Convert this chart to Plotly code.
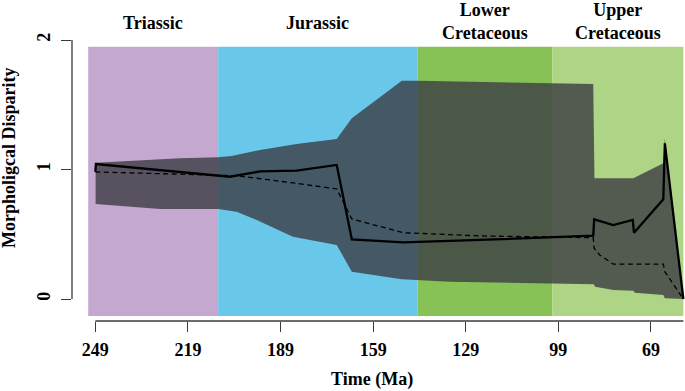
import plotly.graph_objects as go

# Geological periods (Ma) and colours
period_names = ["Triassic", "Jurassic", "Lower<br>Cretaceous", "Upper<br>Cretaceous"]
period_start = [251.3, 209.2, 144.6, 101.0]
period_end = [209.2, 144.6, 101.0, 58.5]
period_colors = ["#C5A8D0", "#69C8EA", "#87C256", "#AED586"]
band_bottom, band_top = -0.131, 1.948

# Envelope (upper / lower bounds of disparity)
upper_t = [248.9, 221.6, 209.2, 204.8, 195.6, 183.8, 170.8, 165.9, 149.7, 144.4,
           87.7, 87.3, 74.7, 65.0, 64.5, 58.5]
upper_v = [1.053, 1.086, 1.094, 1.104, 1.151, 1.197, 1.236, 1.395, 1.685, 1.685,
           1.660, 0.932, 0.932, 1.048, 1.240, 0.0]
lower_t = [248.9, 228.0, 209.2, 203.2, 196.7, 185.0, 170.8, 165.9, 149.7, 134.1,
           101.1, 87.5, 87.1, 81.2, 74.7, 74.2, 65.0, 64.5, 58.5]
lower_v = [0.734, 0.695, 0.695, 0.674, 0.610, 0.481, 0.417, 0.211, 0.152, 0.134,
           0.121, 0.114, 0.095, 0.069, 0.064, 0.049, 0.031, 0.005, 0.0]

# Observed disparity (solid)
obs_t = [249.0, 248.8, 205.4, 195.6, 183.8, 170.8, 165.9, 149.2, 124.4, 87.7,
         87.4, 81.2, 74.9, 74.5, 65.0, 64.5, 58.5]
obs_v = [0.981, 1.042, 0.944, 0.985, 0.992, 1.035, 0.461, 0.438, 0.456, 0.489,
         0.615, 0.571, 0.610, 0.512, 0.770, 1.202, 0.0]

# Expected disparity (dashed)
exp_t = [249.0, 203.2, 183.8, 170.8, 165.9, 149.2, 124.4, 87.7, 87.4, 85.6,
         81.2, 65.0, 64.5, 58.5]
exp_v = [0.981, 0.952, 0.893, 0.850, 0.618, 0.512, 0.487, 0.473, 0.392, 0.340,
         0.270, 0.270, 0.211, 0.0]

x_ticks = [249, 219, 189, 159, 129, 99, 69]
y_ticks = [0, 1, 2]

FONT = "Liberation Serif"
W, H = 685, 391
ML, MR, MT, MB = 72, 0, 40, 70
PW, PH = W - ML - MR, H - MT - MB

fig = go.Figure()

# period bands
for s, e, c in zip(period_start, period_end, period_colors):
    fig.add_shape(type="rect", xref="x", yref="y", x0=s, x1=e, y0=band_bottom, y1=band_top,
                  fillcolor=c, line=dict(width=0), layer="below")

fig.add_trace(go.Scatter(
    x=upper_t + lower_t[::-1], y=upper_v + lower_v[::-1],
    fill="toself", fillcolor="rgba(60,60,68,0.8)", line=dict(width=0),
    mode="lines", hoverinfo="skip", showlegend=False))

fig.add_trace(go.Scatter(x=exp_t, y=exp_v, mode="lines",
                         line=dict(color="black", width=1.3, dash="5px,3.5px"),
                         showlegend=False))
fig.add_trace(go.Scatter(x=obs_t, y=obs_v, mode="lines",
                         line=dict(color="black", width=2.3),
                         showlegend=False))

# axis lines in R style (spanning ticks only)
fig.add_shape(type="line", xref="x", yref="paper", x0=x_ticks[0], x1=period_end[-1],
              y0=0, y1=0, line=dict(color="#3a3a3a", width=1.3))
fig.add_shape(type="line", xref="paper", yref="y", x0=0, x1=0,
              y0=y_ticks[0], y1=y_ticks[-1], line=dict(color="#3a3a3a", width=1.3))

# period labels
for name, s, e in zip(period_names, period_start, period_end):
    ly = 21.5 if "<br>" in name else 22.5
    fig.add_annotation(x=(s + e) / 2, xref="x", y=(H - MB - ly) / PH, yref="paper",
                       text=name, showarrow=False,
                       font=dict(family=FONT, size=18, color="black", weight="bold"),
                       xanchor="center", yanchor="middle")

fig.add_annotation(x=(371.7 - ML) / PW, xref="paper",
                   y=-(379 - (H - MB)) / PH, yref="paper",
                   text="Time (Ma)", showarrow=False,
                   font=dict(family=FONT, size=18, color="black", weight="bold"),
                   xanchor="center", yanchor="middle")
fig.add_annotation(x=(9 - ML) / PW, xref="paper",
                   y=((H - MB) - 158) / PH, yref="paper",
                   text="Morpholigcal Disparity", textangle=-90, showarrow=False,
                   font=dict(family=FONT, size=18, color="black", weight="bold"),
                   xanchor="center", yanchor="middle")

x_px0, x_scale = 95.3, 3.087
fig.update_layout(
    width=W, height=H,
    margin=dict(l=ML, r=MR, t=MT, b=MB, pad=0),
    paper_bgcolor="white", plot_bgcolor="white",
    showlegend=False,
    xaxis=dict(range=[249 + (x_px0 - ML) / x_scale, 249 - (W - MR - x_px0) / x_scale],
               tickmode="array", tickvals=x_ticks, ticktext=[str(v) for v in x_ticks],
               ticks="outside", ticklen=10, tickwidth=1.3, tickcolor="#3a3a3a",
               ticklabelstandoff=2,
               showgrid=False, zeroline=False, showline=False,
               tickfont=dict(family=FONT, size=18, color="black", weight="bold")),
    yaxis=dict(range=[(299 - (H - MB)) / 129.5, (299 - MT) / 129.5],
               tickmode="array", tickvals=y_ticks, ticktext=[str(v) for v in y_ticks],
               ticks="outside", ticklen=10, tickwidth=1.3, tickcolor="#3a3a3a",
               tickangle=-90, ticklabelstandoff=4,
               showgrid=False, zeroline=False, showline=False,
               tickfont=dict(family=FONT, size=18, color="black", weight="bold")),
)

fig.write_html("out.html", config={"displayModeBar": False},
               post_script="document.body.style.margin='0';document.body.style.overflow='hidden';")
